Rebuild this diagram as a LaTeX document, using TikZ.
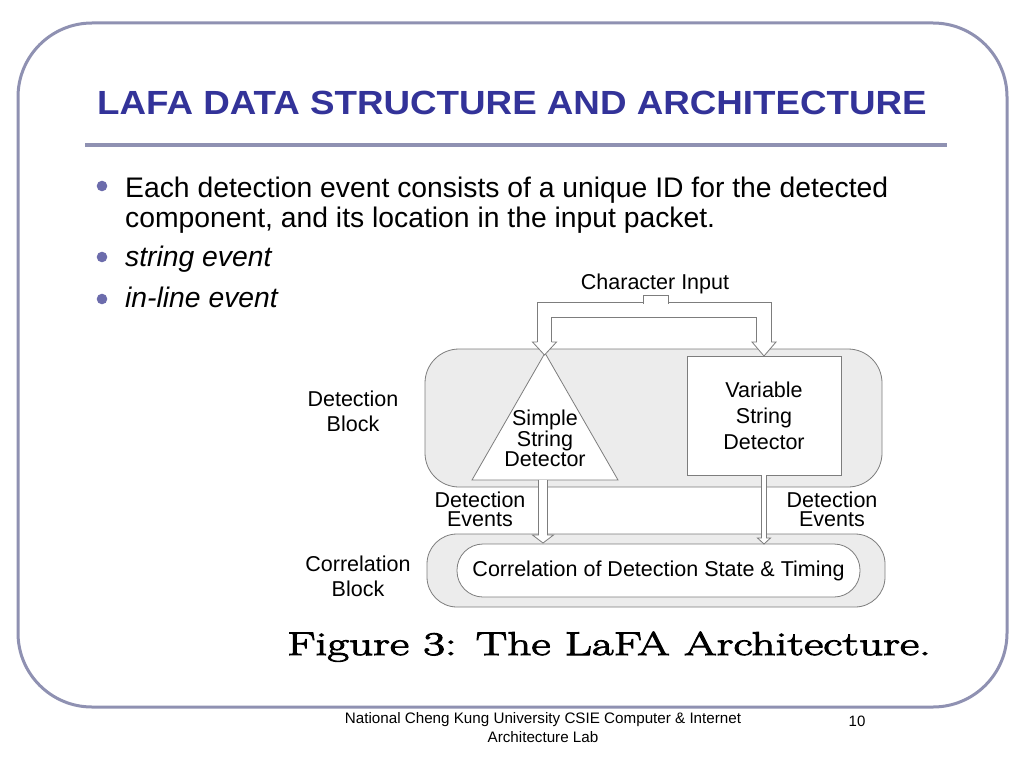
\documentclass[tikz,border=0pt]{standalone}
\usepackage{fontspec}
\newfontfamily\arial{Liberation Sans}
\newfontfamily\titlefont[FakeStretch=1.097]{Liberation Sans}
\newfontfamily\capfont[FakeStretch=1.43, FakeBold=3]{Latin Modern Roman}
\usetikzlibrary{calc}
\definecolor{framegray}{RGB}{143,145,178}
\definecolor{titleblue}{RGB}{51,51,153}
\definecolor{dotblue}{RGB}{108,108,172}
\definecolor{linegray}{RGB}{125,125,125}
\definecolor{blockgray}{RGB}{236,236,236}

% open arrow head: tip, head half width, shaft half width, head length
\newcommand{\hollowhead}[4]{%
  \filldraw[draw=linegray, fill=white, line width=0.8pt]
    ($(#1)+(-#3,-#4)$) -- ($(#1)+(-#2,-#4)$) -- (#1)
    -- ($(#1)+(#2,-#4)$) -- ($(#1)+(#3,-#4)$);}

\begin{document}
\begin{tikzpicture}[x=1pt, y=-1pt,
  slidetext/.style={font=\arial\fontsize{28.3}{30}\selectfont, anchor=base west, inner sep=0},
  figlabel/.style={font=\arial\fontsize{21.5}{#1}\selectfont, align=center, inner sep=0},
  figlabel/.default=24,
  block/.style={draw=linegray, fill=blockgray, line width=0.8pt, rounded corners=34pt, inner sep=0},
  hollow/.style={draw=linegray, line width=0.8pt, double=white, double distance=#1}]
\fill[white] (0,0) rectangle (1024,768);
\useasboundingbox (0,0) rectangle (1024,768);
\draw[framegray, line width=3pt, rounded corners=74pt] (18,23) rectangle (1007,707);

% title
\node[font=\titlefont\bfseries\fontsize{33.5}{36}\selectfont, text=titleblue, anchor=base west, inner sep=0] (title) at (97,114) {LAFA DATA STRUCTURE AND ARCHITECTURE};
\draw[framegray, line width=4.5pt] (85,145) -- (947,145);

% bullets
\foreach \y in {186,257,299}
  \fill[dotblue] (102,\y) circle (5.3);
\node[slidetext] (item1) at (125,197) {Each detection event consists of a unique ID for the detected};
\node[slidetext] (item1b) at (125,227) {component, and its location in the input packet.};
\node[slidetext] (item2) at (125,266) {\itshape string event};
\node[slidetext] (item3) at (125,307) {\itshape in-line event};

% blocks
\node[block, minimum width=457, minimum height=138] (detblock) at (653.5,418) {};
\node[block, minimum width=458, minimum height=73, rounded corners=30pt] (corblock) at (656,570.5) {};
\node[block, fill=white, minimum width=403, minimum height=53, rounded corners=26pt, figlabel] (cst) at (658.5,570.5) {Correlation of Detection State \& Timing};

% detectors
\coordinate (apex) at (545,353);
\draw[linegray, fill=white, line width=0.8pt] (apex) -- (618,480) -- (472,480) -- cycle;
\node[figlabel=18.5] (ssd) at (545,438) {Simple\\String\\Detector};
\node[draw=linegray, fill=white, line width=0.8pt, minimum width=154, minimum height=119, figlabel=26] (vsd) at (764,415.5) {Variable\\String\\Detector};

% labels
\node[figlabel=25] (detlabel) at (353,411) {Detection\\Block};
\node[figlabel=25] (corlabel) at (358,576) {Correlation\\Block};
\node[figlabel=19] (evleft) at (480,509) {Detection\\Events};
\node[figlabel=19] (evright) at (832,509) {Detection\\Events};
\node[figlabel, anchor=base] (cin) at (655,289) {Character Input};

% input connector
\coordinate (nub) at (655.5,295);
\coordinate (inl) at (544.5,342);
\coordinate (inr) at (764,342);
\draw[hollow=13.5] (inl) |- ($(nub)+(0,15)$) -| (inr);
\fill[white] ($(nub)+(-12,6)$) rectangle ($(nub)+(12,9.8)$);
\draw[linegray, line width=0.8pt] ($(nub)+(-12.5,8.5)$) |- ($(nub)+(12.5,0)$) -- ++(0,8.5);
\coordinate (tipl) at (544.5,355);
\coordinate (tipr) at (764,356);
\hollowhead{tipl}{12}{7.15}{13}
\hollowhead{tipr}{12}{7.15}{14}

% detection events
\coordinate (ssdbase) at (543,480);
\coordinate (tipdl) at (543,543);
\coordinate (tipdr) at (764,544);
\draw[hollow=7.5] (ssdbase) -- ($(tipdl)+(0,-8)$);
\hollowhead{tipdl}{10.5}{4.15}{8}
\draw[hollow=3.5] (vsd.south) -- ($(tipdr)+(0,-6)$);
\hollowhead{tipdr}{6.5}{2.15}{6}

% caption and footer
\node[anchor=base west, inner sep=0, font=\capfont\fontsize{33}{35}\selectfont] (caption) at (287,655) {Figure 3: The LaFA Architecture.};
\node[font=\arial\fontsize{15.2}{19}\selectfont, align=center, inner sep=0] (footer) at (543,728) {National Cheng Kung University CSIE Computer \& Internet\\Architecture Lab};
\node[font=\arial\fontsize{15}{16}\selectfont, anchor=base, inner sep=0] (pageno) at (857,726) {10};
\end{tikzpicture}
\end{document}
